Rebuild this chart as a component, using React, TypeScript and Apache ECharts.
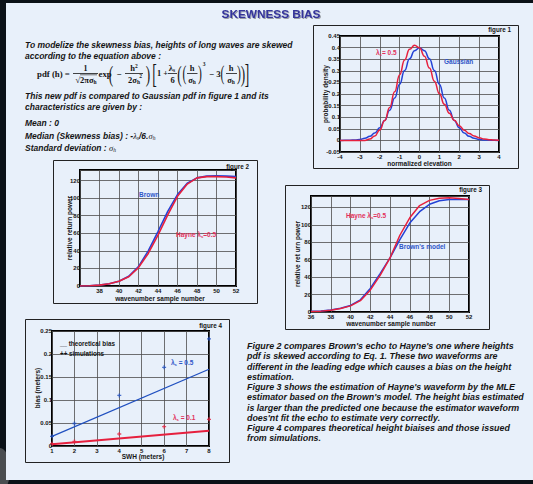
import { useEffect, useRef } from 'react';
import * as echarts from 'echarts';

const SANS = '"Liberation Sans", Arial, sans-serif';
const SERIF = '"Liberation Serif", "Times New Roman", serif';

// ---------- Figure 1 : probability density ----------
const FIG1_X = [-4, -3.75, -3.5, -3.25, -3, -2.75, -2.5, -2.25, -2, -1.75, -1.5, -1.25, -1, -0.75, -0.5, -0.25, 0,
  0.25, 0.5, 0.75, 1, 1.25, 1.5, 1.75, 2, 2.25, 2.5, 2.75, 3, 3.25, 3.5, 3.75, 4];
const FIG1_GAUSSIAN = [0.0001, 0.0004, 0.0009, 0.002, 0.0044, 0.0091, 0.0175, 0.0317, 0.054, 0.0863, 0.1295, 0.1826, 0.242, 0.3011, 0.3521, 0.3867, 0.3989,
  0.3867, 0.3521, 0.3011, 0.242, 0.1826, 0.1295, 0.0863, 0.054, 0.0317, 0.0175, 0.0091, 0.0044, 0.002, 0.0009, 0.0004, 0.0001];
const FIG1_SKEWED = [0, 0, 0, 0, 0, 0, 0.0057, 0.0194, 0.045, 0.0855, 0.1417, 0.21, 0.2823, 0.3469, 0.3924, 0.4104, 0.3989,
  0.363, 0.3118, 0.2552, 0.2017, 0.1553, 0.1174, 0.0871, 0.063, 0.044, 0.0294, 0.0186, 0.0111, 0.0062, 0.0032, 0.0016, 0.0007];

// ---------- Figure 2 : Brown vs Hayne echo ----------
const FIG2_X = [36, 37, 38, 39, 40, 41, 42, 43, 44, 45, 46, 47, 48, 49, 50, 51, 52];
const FIG2_BROWN = [0, 0.3, 1, 2.5, 5.5, 11, 22, 40, 62, 85, 104, 117, 123, 125, 125.5, 125, 124.5];
const FIG2_HAYNE = [0, 0.3, 1, 2.5, 5.5, 10.5, 21, 37, 58, 81, 102, 116, 123, 124.5, 124.5, 124, 123];

// ---------- Figure 3 : MLE estimation ----------
const FIG3_X = [36, 37, 38, 39, 40, 41, 42, 43, 44, 45, 46, 47, 48, 49, 50, 51, 52];
const FIG3_HAYNE = [0.5, 1, 2, 4, 7, 13, 25, 42, 62, 88, 108, 122, 128, 130.5, 131, 130, 129];
const FIG3_BROWN = [0.8, 1.2, 2.2, 4.2, 7.5, 14, 27, 44, 62, 83, 102, 115, 123.5, 127.5, 129, 129, 129];

// ---------- Figure 4 : bias vs SWH ----------
const FIG4_LINE_X = [1, 8];
const FIG4_THEORY_05 = [0.021, 0.167];
const FIG4_THEORY_01 = [0.004, 0.033];
const FIG4_SIM_X = [1, 2, 4, 6, 8];
const FIG4_SIM_05 = [0.021, 0.049, 0.11, 0.171, 0.233];
const FIG4_SIM_01 = [0.005, 0.01, 0.026, 0.042, 0.058];

// ---------- Texts ----------
const TITLE = 'SKEWNESS BIAS';
const LEFT_PARAGRAPH_A = [
  'To modelize the skewness bias, heights of long waves are skewed',
  'according to the equation above :',
];
const LEFT_PARAGRAPH_B = [
  'This new pdf is compared to Gaussian pdf in figure 1 and its',
  'characteristics are given by :',
];
const RIGHT_PARAGRAPH = [
  "Figure 2 compares Brown's echo to Hayne's one where heights",
  'pdf is skewed according to Eq. 1. These two waveforms are',
  'different in the leading edge which causes a bias on the height',
  'estimation.',
  "Figure 3 shows the estimation of Hayne's waveform by the MLE",
  "estimator based on the Brown's model. The height bias estimated",
  'is larger than the predicted one because the estimator waveform',
  "does'nt fit the echo to estimate very correctly.",
  'Figure 4 compares theoretical height biaises and those issued',
  'from simulations.',
];

const BLUE = '#2342d6';
const RED = '#e6203e';
const BLUE_TXT = '#2f55c8';
const RED_TXT = '#e2305a';
const INK = '#151515';

type O = { [k: string]: any };

const txt = (x: number, y: number, text: string, font: string, o: O = {}) => ({
  type: 'text',
  x,
  y,
  z: 20,
  silent: true,
  rotation: o.rotation ?? 0,
  scaleX: o.scaleX ?? 1,
  style: {
    text,
    font,
    fill: o.fill ?? INK,
    align: o.align ?? 'left',
    textAlign: o.align ?? 'left',
    verticalAlign: 'middle',
    textVerticalAlign: 'middle',
    rich: o.rich,
    textShadowColor: o.shadow ? 'rgba(0,0,0,0.35)' : undefined,
    textShadowBlur: o.shadow ? 1 : undefined,
    textShadowOffsetX: o.shadow ? 1 : undefined,
    textShadowOffsetY: o.shadow ? 1 : undefined,
  },
});

const seg = (x1: number, y1: number, x2: number, y2: number, w = 0.8) => ({
  type: 'line',
  z: 20,
  silent: true,
  shape: { x1, y1, x2, y2 },
  style: { stroke: INK, lineWidth: w },
});

const frame = (x: number, y: number, w: number, h: number) => ({
  type: 'rect',
  z: -90,
  silent: true,
  shape: { x, y, width: w, height: h },
  style: { fill: 'none', stroke: '#222', lineWidth: 1 },
});

const lambdaRich = (size: number, fill: string) => ({
  m: { font: `bold ${size}px ${SANS}`, fill, lineHeight: size + 2 },
  s: { font: `bold ${size * 0.65}px ${SANS}`, fill, verticalAlign: 'bottom', lineHeight: size * 0.65 },
});

const fb = (s: number) => `bold ${s}px ${SERIF}`;
const fn = (s: number) => `normal ${s}px ${SERIF}`;
const serifRich = {
  m: { font: fb(8.5), fill: INK, lineHeight: 10 },
  s: { font: fb(5.5), fill: INK, verticalAlign: 'bottom', lineHeight: 5.5 },
  p: { font: fb(5.5), fill: INK, verticalAlign: 'top', lineHeight: 5.5 },
};

const PARA_FONT = `italic bold 8.5px ${SANS}`;
const PARA_FONT_R = `italic bold 8.9px ${SANS}`;
const paraRich = {
  m: { font: PARA_FONT, fill: INK, lineHeight: 10 },
  s: { font: `italic bold 5.5px ${SANS}`, fill: INK, verticalAlign: 'bottom', lineHeight: 6 },
  g: { font: `italic 8.5px ${SERIF}`, fill: INK, lineHeight: 10 },
  gs: { font: `italic 5.5px ${SERIF}`, fill: INK, verticalAlign: 'bottom', lineHeight: 6 },
};

const AXIS_LABEL = { fontSize: 6, fontWeight: 'bold', fontFamily: SANS, color: INK };
const SPLIT = { show: true, lineStyle: { color: '#4d4d4d', width: 0.8 } };

const valueAxis = (gridIndex: number, min: number, max: number, interval: number, margin: number, formatter?: any) => ({
  type: 'value',
  gridIndex,
  min,
  max,
  interval,
  axisLine: { show: false },
  axisTick: { show: false },
  splitLine: SPLIT,
  axisLabel: { ...AXIS_LABEL, margin, formatter, showMinLabel: true, showMaxLabel: true },
});

const gridBox = (left: number, top: number, width: number, height: number) => ({
  left,
  top,
  width,
  height,
  show: true,
  borderColor: '#000',
  borderWidth: 2,
  backgroundColor: 'rgba(0,0,0,0)',
});

const lineSeries = (xi: number, xs: number[], ys: number[], color: string, width: number, smooth: boolean) => ({
  type: 'line',
  xAxisIndex: xi,
  yAxisIndex: xi,
  data: xs.map((x, i) => [x, ys[i]]),
  showSymbol: false,
  smooth,
  smoothMonotone: smooth ? 'x' : undefined,
  lineStyle: { color, width },
  itemStyle: { color },
  z: 3,
});

const PLUS = 'path://M1,0H2V1H3V2H2V3H1V2H0V1H1Z';
const simSeries = (ys: number[], color: string) => ({
  type: 'scatter',
  xAxisIndex: 3,
  yAxisIndex: 3,
  data: FIG4_SIM_X.map((x, i) => [x, ys[i]]),
  symbol: PLUS,
  symbolSize: 4,
  itemStyle: { color },
  z: 4,
});

const round2 = (v: number) => String(Math.round(v * 100) / 100);

function buildGraphics() {
  const g: any[] = [];
  // background
  g.push({ type: 'rect', z: -100, silent: true, shape: { x: 0, y: 0, width: 533, height: 484 }, style: { fill: '#0b1117' } });
  g.push({ type: 'ellipse', z: -99, silent: true, shape: { cx: 0, cy: 470, rx: 10, ry: 22 }, style: { fill: 'rgba(150,150,150,0.45)' } });
  g.push({ type: 'rect', z: -95, silent: true, shape: { x: 6, y: 3, width: 527, height: 477 }, style: { fill: '#e8f0fa' } });

  // figure frames
  g.push(frame(313.5, 25.5, 205, 143));
  g.push(frame(53.5, 160.5, 204, 143));
  g.push(frame(285.5, 185.5, 204, 144));
  g.push(frame(25.5, 319.5, 204, 143));

  // title
  g.push(txt(271, 13.5, TITLE, `bold 11.8px ${SANS}`, { align: 'center', fill: '#34349a', shadow: true }));

  // left paragraph
  LEFT_PARAGRAPH_A.forEach((t, i) => g.push(txt(25, 45 + i * 10.5, t, PARA_FONT)));
  LEFT_PARAGRAPH_B.forEach((t, i) => g.push(txt(25, 96 + i * 11, t, PARA_FONT)));
  g.push(txt(25, 123, 'Mean : 0', PARA_FONT));
  g.push(txt(25, 136, '{m|Median (Skewness bias) : -}{g|λ}{gs|s}{m|/6.}{g|σ}{gs|h}', PARA_FONT, { rich: paraRich }));
  g.push(txt(25, 147.5, '{m|Standard deviation : }{g|σ}{gs|h}', PARA_FONT, { rich: paraRich }));

  // formula
  g.push(txt(37, 73.5, 'pdf (h) =', fb(8.8)));
  g.push(txt(85.5, 68, '1', fb(8), { align: 'center' }));
  g.push(seg(73, 73.5, 98, 73.5));
  g.push(txt(86, 79.5, '{m|√2πσ}{s|h}', fb(8.5), { align: 'center', rich: serifRich }));
  g.push(seg(80, 74.8, 97, 74.8, 0.6));
  g.push(txt(98.5, 73.5, 'exp', fb(8.8)));
  g.push(txt(111, 73.5, '(', fn(24), { align: 'center', scaleX: 0.55 }));
  g.push(txt(119, 73.5, '−', fb(8.8), { align: 'center' }));
  g.push(txt(134, 67.5, '{m|h}{p|2}', fb(8.5), { align: 'center', rich: serifRich }));
  g.push(seg(125, 73.5, 143, 73.5));
  g.push(txt(134, 79.5, '{m|2σ}{s|h}', fb(8.5), { align: 'center', rich: serifRich }));
  g.push(txt(140.5, 76, '2', fb(5.5), { align: 'center' }));
  g.push(txt(148, 73.5, ')', fn(24), { align: 'center', scaleX: 0.55 }));
  g.push(txt(154.5, 74, '[', fn(27), { align: 'center', scaleX: 0.5 }));
  g.push(txt(157, 73.5, '1 +', fb(8.3)));
  g.push(txt(172, 67.5, '{m|λ}{s|s}', fb(8.5), { align: 'center', rich: serifRich }));
  g.push(seg(168, 73.5, 177, 73.5));
  g.push(txt(172.5, 79.5, '6', fb(8.5), { align: 'center' }));
  g.push(txt(179.5, 73.5, '(', fn(24), { align: 'center', scaleX: 0.55 }));
  g.push(txt(184.5, 73.5, '(', fn(21), { align: 'center', scaleX: 0.55 }));
  g.push(txt(192, 67.5, 'h', fb(8.5), { align: 'center' }));
  g.push(seg(187, 73.5, 197.5, 73.5));
  g.push(txt(192, 79.5, '{m|σ}{s|h}', fb(8.5), { align: 'center', rich: serifRich }));
  g.push(txt(200, 73.5, ')', fn(21), { align: 'center', scaleX: 0.55 }));
  g.push(txt(204, 63.5, '3', fb(5.5), { align: 'center' }));
  g.push(txt(211.5, 73.5, '−', fb(8.8), { align: 'center' }));
  g.push(txt(218.5, 73.5, '3', fb(8.8), { align: 'center' }));
  g.push(txt(222.5, 73.5, '(', fn(21), { align: 'center', scaleX: 0.55 }));
  g.push(txt(231, 67.5, 'h', fb(8.5), { align: 'center' }));
  g.push(seg(226, 73.5, 237, 73.5));
  g.push(txt(231, 79.5, '{m|σ}{s|h}', fb(8.5), { align: 'center', rich: serifRich }));
  g.push(txt(239, 73.5, ')', fn(21), { align: 'center', scaleX: 0.55 }));
  g.push(txt(243, 73.5, ')', fn(24), { align: 'center', scaleX: 0.55 }));
  g.push(txt(247, 74, ']', fn(27), { align: 'center', scaleX: 0.5 }));

  // right paragraph
  RIGHT_PARAGRAPH.forEach((t, i) => g.push(txt(247, 346 + i * 10.25, t, PARA_FONT_R)));

  // figure captions
  const figFont = `bold 6.3px ${SANS}`;
  g.push(txt(511, 29, 'figure 1', figFont, { align: 'right' }));
  g.push(txt(249, 166, 'figure 2', figFont, { align: 'right' }));
  g.push(txt(482, 189.5, 'figure 3', figFont, { align: 'right' }));
  g.push(txt(222, 325, 'figure 4', figFont, { align: 'right' }));

  // axis names
  const nameFont = `bold 6.5px ${SANS}`;
  const up = Math.PI / 2;
  g.push(txt(325, 94, 'probability density', nameFont, { align: 'center', rotation: up }));
  g.push(txt(419.5, 163, 'normalized elevation', nameFont, { align: 'center' }));
  g.push(txt(69, 228, 'relative return power', nameFont, { align: 'center', rotation: up }));
  g.push(txt(160, 298, 'wavenumber sample number', nameFont, { align: 'center' }));
  g.push(txt(297, 254, 'relative ret urn power', nameFont, { align: 'center', rotation: up }));
  g.push(txt(391, 323, 'wavenumber sample number', nameFont, { align: 'center' }));
  g.push(txt(37, 388, 'bias (meters)', nameFont, { align: 'center', rotation: up }));
  g.push(txt(143, 456.5, 'SWH (meters)', nameFont, { align: 'center' }));

  // in-plot labels
  g.push(txt(376, 52, '{m|λ}{s|s}{m|= 0.5}', `bold 6.5px ${SANS}`, { rich: lambdaRich(6.5, RED_TXT) }));
  g.push(txt(444, 61, 'Gaussian', `bold 6.5px ${SANS}`, { fill: BLUE_TXT }));
  g.push(txt(139, 194, 'Brown', `bold 6.5px ${SANS}`, { fill: BLUE_TXT }));
  g.push(txt(176, 234, '{m|Hayne }{m|λ}{s|s}{m|=0.5}', `bold 6.5px ${SANS}`, { rich: lambdaRich(6.5, RED_TXT) }));
  g.push(txt(346, 215, '{m|Hayne }{m|λ}{s|s}{m|=0.5}', `bold 6.5px ${SANS}`, { rich: lambdaRich(6.5, RED_TXT) }));
  g.push(txt(399, 246, "Brown's model", `bold 6.5px ${SANS}`, { fill: BLUE_TXT }));
  g.push(txt(60, 343, '__ theoretical bias', `bold 6.3px ${SANS}`));
  g.push(txt(60, 353, '++ simulations', `bold 6.3px ${SANS}`));
  g.push(txt(171, 362, '{m|λ}{s|s}{m| = 0.5}', `bold 6.5px ${SANS}`, { rich: lambdaRich(6.5, BLUE_TXT) }));
  g.push(txt(173, 417, '{m|λ}{s|s}{m| = 0.1}', `bold 6.5px ${SANS}`, { rich: lambdaRich(6.5, RED_TXT) }));

  return g;
}

function buildOption() {
  return {
    animation: false,
    backgroundColor: '#0b1117',
    grid: [
      gridBox(340, 36, 159, 116),
      gridBox(80, 170, 156, 116),
      gridBox(311, 196, 158, 116),
      gridBox(52, 331, 157, 115),
    ],
    xAxis: [
      valueAxis(0, -4, 4, 1, 2),
      valueAxis(1, 36, 52, 2, 2, (v: number) => (v === 36 ? '' : String(v))),
      valueAxis(2, 36, 52, 2, 2),
      valueAxis(3, 1, 8, 1, 2),
    ],
    yAxis: [
      valueAxis(0, -0.05, 0.45, 0.05, 0, round2),
      valueAxis(1, 0, 132, 20, 0, (v: number) => (v > 125 ? '' : String(v))),
      valueAxis(2, 0, 133, 20, 0, (v: number) => (v > 125 ? '' : String(v))),
      valueAxis(3, 0, 0.25, 0.05, 0, round2),
    ],
    series: [
      lineSeries(0, FIG1_X, FIG1_GAUSSIAN, BLUE, 1.5, true),
      lineSeries(0, FIG1_X, FIG1_SKEWED, RED, 1.5, true),
      lineSeries(1, FIG2_X, FIG2_BROWN, BLUE, 1.6, false),
      lineSeries(1, FIG2_X, FIG2_HAYNE, RED, 1.6, false),
      lineSeries(2, FIG3_X, FIG3_BROWN, BLUE, 1.5, false),
      lineSeries(2, FIG3_X, FIG3_HAYNE, RED, 1.5, false),
      lineSeries(3, FIG4_LINE_X, FIG4_THEORY_05, '#2050c0', 1.2, false),
      lineSeries(3, FIG4_LINE_X, FIG4_THEORY_01, RED, 2, false),
      simSeries(FIG4_SIM_05, '#2050c0'),
      simSeries(FIG4_SIM_01, RED),
    ],
    graphic: { elements: buildGraphics() },
  };
}

export default function App() {
  const ref = useRef<HTMLDivElement>(null);
  useEffect(() => {
    if (!ref.current) return;
    const chart = echarts.init(ref.current, undefined, { renderer: 'svg', width: 533, height: 484 });
    chart.setOption(buildOption() as any);
    return () => chart.dispose();
  }, []);
  return <div ref={ref} style={{ position: 'fixed', left: 0, top: 0, width: 533, height: 484 }} />;
}
